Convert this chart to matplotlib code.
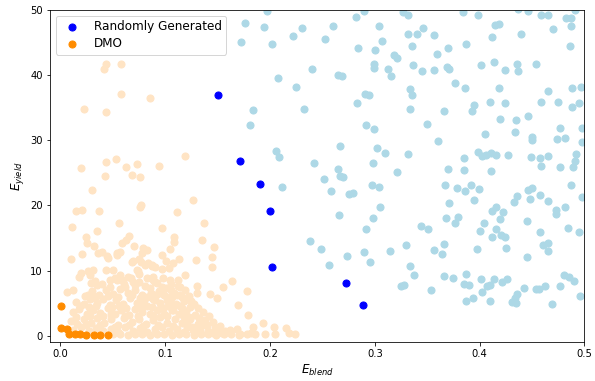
import matplotlib
matplotlib.use("Agg")
import matplotlib.pyplot as plt

# Randomly generated designs (dominated)
random_points = [
    (0.197, 49.85), (0.290, 49.85), (0.176, 48.06), (0.194, 47.38), (0.230, 47.18), (0.222, 46.0), (0.260, 47.49),
    (0.282, 48.88), (0.304, 47.49), (0.172, 45.14), (0.202, 44.83), (0.252, 45.6), (0.284, 44.22), (0.300, 43.8),
    (0.307, 45.29), (0.318, 43.08), (0.321, 42.62), (0.299, 41.65), (0.299, 41.14), (0.313, 40.88), (0.315, 39.85),
    (0.240, 40.92), (0.265, 39.95), (0.269, 39.8), (0.208, 39.54), (0.225, 38.22), (0.291, 37.03), (0.294, 36.92),
    (0.283, 35.65), (0.184, 34.68), (0.232, 34.88), (0.181, 32.42), (0.292, 32.31), (0.299, 31.69), (0.206, 28.31),
    (0.209, 27.49), (0.267, 29.14), (0.302, 28.77), (0.310, 28.06), (0.242, 26.57), (0.298, 26.57), (0.265, 25.65),
    (0.327, 49.75), (0.332, 49.18), (0.384, 49.69), (0.398, 49.23), (0.437, 50.1), (0.446, 49.85), (0.459, 49.18),
    (0.465, 49.23), (0.491, 49.95), (0.482, 48.72), (0.487, 48.83), (0.487, 47.54), (0.332, 46.31), (0.340, 46.26),
    (0.346, 47.18), (0.356, 46.22), (0.415, 47.69), (0.418, 47.8), (0.412, 45.8), (0.439, 46.31), (0.470, 47.14),
    (0.335, 44.46), (0.359, 43.29), (0.370, 44.11), (0.387, 44.77), (0.486, 44.52), (0.336, 41.6), (0.345, 40.62),
    (0.356, 40.72), (0.369, 41.23), (0.371, 40.88), (0.401, 41.6), (0.414, 42.06), (0.424, 40.72), (0.436, 41.65),
    (0.437, 40.57), (0.454, 41.69), (0.376, 38.77), (0.386, 37.95), (0.418, 38.0), (0.334, 37.85), (0.335, 36.98),
    (0.465, 37.6), (0.488, 38.0), (0.497, 38.22), (0.334, 34.83), (0.366, 34.57), (0.395, 35.45), (0.393, 34.52),
    (0.410, 35.85), (0.424, 35.69), (0.459, 35.85), (0.475, 35.95), (0.488, 35.14), (0.495, 35.65), (0.350, 32.46),
    (0.419, 33.34), (0.435, 33.08), (0.446, 33.8), (0.434, 31.29), (0.405, 30.92), (0.360, 29.91), (0.450, 30.46),
    (0.450, 30.11), (0.477, 31.95), (0.474, 30.15), (0.481, 30.42), (0.498, 31.95), (0.498, 29.69), (0.332, 27.91),
    (0.385, 27.29), (0.398, 28.15), (0.402, 27.65), (0.406, 27.8), (0.411, 28.06), (0.416, 27.69), (0.427, 27.69),
    (0.449, 27.38), (0.458, 27.29), (0.465, 27.54), (0.492, 27.91), (0.491, 26.77), (0.459, 26.0), (0.477, 25.85),
    (0.489, 25.85), (0.370, 25.57), (0.385, 25.42), (0.411, 25.34), (0.267, 24.46), (0.270, 24.31), (0.251, 24.0),
    (0.321, 25.14), (0.211, 22.83), (0.258, 22.22), (0.275, 21.8), (0.279, 21.95), (0.297, 23.08), (0.304, 22.83),
    (0.305, 19.69), (0.266, 18.52), (0.298, 18.11), (0.292, 16.37), (0.238, 14.57), (0.249, 13.38), (0.273, 12.26),
    (0.290, 12.83), (0.314, 13.08), (0.256, 10.83), (0.295, 11.29), (0.367, 23.18), (0.378, 22.68), (0.386, 22.15),
    (0.392, 23.18), (0.399, 22.52), (0.395, 20.83), (0.371, 20.37), (0.368, 18.0), (0.376, 17.38), (0.379, 18.26),
    (0.344, 16.92), (0.351, 16.37), (0.330, 13.91), (0.356, 13.18), (0.364, 12.62), (0.366, 14.06), (0.397, 13.34),
    (0.404, 17.29), (0.400, 16.11), (0.412, 19.08), (0.416, 19.75), (0.422, 19.03), (0.419, 17.95), (0.416, 16.42),
    (0.412, 15.14), (0.420, 15.45), (0.424, 15.14), (0.425, 13.45), (0.433, 20.46), (0.436, 21.38), (0.446, 22.37),
    (0.450, 22.68), (0.448, 20.98), (0.458, 21.6), (0.465, 20.62), (0.445, 17.65), (0.458, 15.95), (0.460, 14.0),
    (0.465, 14.26), (0.465, 13.03), (0.445, 12.11), (0.473, 19.29), (0.473, 18.68), (0.481, 19.69), (0.487, 23.18),
    (0.498, 21.29), (0.484, 16.52), (0.495, 15.85), (0.334, 10.72), (0.337, 9.38), (0.325, 7.6), (0.328, 7.8),
    (0.354, 7.08), (0.366, 9.18), (0.375, 8.83), (0.387, 9.49), (0.385, 7.95), (0.390, 7.85), (0.401, 8.72),
    (0.407, 7.69), (0.410, 7.8), (0.414, 8.72), (0.421, 8.31), (0.426, 8.77), (0.402, 6.68), (0.394, 5.8),
    (0.387, 5.38), (0.410, 5.34), (0.442, 7.34), (0.436, 6.37), (0.434, 5.75), (0.431, 5.23), (0.435, 5.03),
    (0.454, 7.23), (0.457, 7.23), (0.462, 7.69), (0.469, 4.83), (0.477, 7.65), (0.480, 9.34), (0.485, 9.03),
    (0.490, 8.37), (0.496, 6.15),
]

# Non-dominated randomly generated designs
random_front = [
    (0.150, 36.9), (0.1716, 26.8), (0.190, 23.3), (0.1997, 19.2), (0.2019, 10.6), (0.2723, 8.15), (0.2889, 4.7),
]

# DMO designs (dominated)
dmo_points = [
    (0.0432, 41.65), (0.0416, 40.88), (0.0578, 41.65), (0.0581, 37.03), (0.0853, 36.42), (0.0222, 34.88),
    (0.0435, 34.31), (0.1184, 27.65), (0.0193, 25.69), (0.0432, 26.68), (0.0533, 27.08), (0.0626, 25.85),
    (0.0728, 26.31), (0.0939, 26.06), (0.0428, 24.46), (0.0686, 24.62), (0.0760, 24.37), (0.0298, 22.37),
    (0.1267, 20.83), (0.0767, 20.11),
    (0.0145, 19.18), (0.0206, 19.29), (0.0368, 19.18), (0.0763, 19.8), (0.1111, 19.03), (0.0107, 16.68),
    (0.0352, 16.11), (0.0562, 17.38), (0.0968, 16.52), (0.1365, 17.29), (0.1350, 14.68), (0.1461, 13.69),
    (0.1088, 15.23), (0.1088, 14.42), (0.1047, 13.29), (0.1133, 11.85), (0.1078, 11.23), (0.0968, 12.46),
    (0.1009, 11.54), (0.0973, 10.22), (0.1295, 11.65), (0.1446, 12.11), (0.1448, 10.52), (0.1187, 9.38),
    (0.1637, 8.46), (0.1554, 7.45), (0.1783, 6.92), (0.1302, 7.65), (0.1305, 6.52), (0.1429, 6.37),
    (0.1493, 5.75), (0.1250, 5.38), (0.1238, 4.46), (0.1694, 4.77), (0.1790, 3.14), (0.1936, 2.0),
    (0.1834, 1.38), (0.2038, 1.38), (0.2153, 1.23), (0.2182, 0.37), (0.2239, 0.26), (0.1818, 0.37),
    (0.1709, 0.22), (0.1684, 1.03), (0.1620, 0.88), (0.1541, 0.46), (0.1206, 2.15), (0.1222, 2.83),
    (0.1254, 1.38), (0.1365, 2.0), (0.1403, 1.65), (0.1477, 1.29), (0.1327, 0.77), (0.1451, 0.46),
    (0.0100, 11.8), (0.0208, 12.57), (0.0241, 15.23), (0.0256, 14.31), (0.0317, 13.75), (0.0394, 12.88),
    (0.0442, 12.26), (0.0435, 10.06), (0.0260, 9.95), (0.0311, 10.11), (0.0196, 9.69), (0.0177, 9.08),
    (0.0059, 6.72), (0.0122, 7.03), (0.0237, 6.06), (0.0289, 8.06), (0.0346, 7.8), (0.0473, 7.54),
    (0.0537, 8.57), (0.0505, 10.11), (0.0543, 12.68), (0.0585, 14.22), (0.0626, 14.72), (0.0658, 15.34),
    (0.0703, 13.85), (0.0690, 11.49), (0.0776, 12.68), (0.0753, 11.8), (0.0824, 13.18), (0.0792, 13.45),
    (0.0839, 11.14), (0.0872, 10.72), (0.0728, 10.11), (0.0753, 9.49), (0.0648, 9.08), (0.0569, 9.34),
    (0.0696, 8.22), (0.0824, 8.83), (0.0887, 9.08), (0.0920, 8.15), (0.1047, 8.57), (0.1117, 8.57),
    (0.1142, 7.54), (0.1056, 7.03), (0.1111, 6.26), (0.1159, 6.0), (0.0951, 6.52), (0.1015, 6.0),
    (0.0865, 6.52), (0.0798, 5.49), (0.0903, 5.49), (0.1047, 4.98), (0.1142, 4.57), (0.1078, 3.95),
    (0.0983, 4.21), (0.0872, 4.46),
    (0.0361, 12.68), (0.0457, 11.9), (0.0537, 12.42), (0.0569, 12.92), (0.0681, 11.38), (0.0770, 11.38),
    (0.0808, 10.86), (0.0872, 10.86), (0.0903, 10.6), (0.1040, 10.37), (0.0744, 9.95), (0.0282, 9.34),
    (0.0521, 8.83), (0.0585, 8.57), (0.0617, 7.54), (0.0712, 7.8), (0.0903, 8.31), (0.0968, 7.54),
    (0.033, 8.4), (0.040, 7.9), (0.047, 8.6), (0.061, 8.0), (0.067, 8.8), (0.075, 8.3), (0.081, 7.7),
    (0.088, 8.6), (0.098, 8.8), (0.105, 7.9), (0.112, 7.6),
    (0.030, 6.9), (0.037, 6.3), (0.043, 7.1), (0.050, 6.4), (0.057, 7.2), (0.064, 6.6), (0.071, 7.0),
    (0.078, 6.3), (0.085, 7.3), (0.094, 6.9), (0.101, 7.4), (0.108, 6.5), (0.119, 7.1),
    (0.026, 6.2), (0.033, 5.9), (0.045, 6.1), (0.055, 6.0), (0.068, 6.2), (0.076, 5.8), (0.083, 6.0),
    (0.091, 6.3), (0.099, 6.2), (0.106, 5.9), (0.114, 6.3), (0.123, 6.1),
    (0.015, 5.2), (0.022, 4.8), (0.028, 5.6), (0.035, 5.0), (0.041, 5.7), (0.047, 4.7), (0.053, 5.5),
    (0.060, 4.9), (0.066, 5.8), (0.073, 5.1), (0.080, 4.7), (0.088, 5.6), (0.095, 5.0), (0.102, 5.5),
    (0.110, 4.8), (0.118, 5.3), (0.127, 4.9),
    (0.019, 4.5), (0.027, 4.4), (0.034, 4.5), (0.049, 4.4), (0.056, 4.5), (0.063, 4.3), (0.076, 4.4),
    (0.083, 4.5), (0.096, 4.4), (0.103, 4.6), (0.116, 4.2), (0.131, 4.3),
    (0.012, 3.6), (0.018, 4.1), (0.025, 3.3), (0.031, 4.0), (0.038, 3.5), (0.045, 4.2), (0.052, 3.4),
    (0.058, 3.9), (0.065, 3.2), (0.071, 4.1), (0.078, 3.6), (0.085, 3.3), (0.092, 3.9), (0.099, 3.4),
    (0.106, 4.0), (0.113, 3.3), (0.120, 3.8), (0.128, 3.2), (0.136, 3.6),
    (0.015, 2.9), (0.028, 3.0), (0.041, 3.1), (0.048, 3.3), (0.062, 3.0), (0.074, 3.1), (0.088, 3.0),
    (0.102, 3.1), (0.118, 2.9), (0.132, 2.8), (0.142, 3.0),
    (0.010, 2.3), (0.016, 1.8), (0.022, 2.6), (0.029, 2.0), (0.035, 2.7), (0.042, 1.9), (0.048, 2.5),
    (0.055, 1.7), (0.061, 2.8), (0.068, 2.1), (0.075, 2.6), (0.082, 1.8), (0.088, 2.4), (0.095, 2.9),
    (0.102, 2.0), (0.109, 2.5), (0.116, 1.9), (0.124, 2.6), (0.131, 1.8), (0.138, 2.4), (0.146, 2.1),
    (0.024, 1.6), (0.038, 1.7), (0.052, 1.4), (0.065, 1.6), (0.079, 1.5), (0.093, 1.7), (0.107, 1.5),
    (0.121, 1.4), (0.136, 1.6), (0.152, 1.5),
    (0.012, 0.9), (0.020, 1.3), (0.027, 0.8), (0.034, 1.2), (0.041, 0.7), (0.048, 1.1), (0.055, 0.6),
    (0.062, 1.3), (0.069, 0.8), (0.076, 1.2), (0.083, 0.6), (0.090, 1.0), (0.097, 1.4), (0.104, 0.7),
    (0.111, 1.1), (0.118, 0.6), (0.126, 0.9), (0.133, 1.3), (0.141, 0.8), (0.149, 1.0), (0.157, 0.7),
    (0.050, 0.2), (0.057, 0.3), (0.064, 0.1), (0.071, 0.3), (0.078, 0.2), (0.085, 0.1), (0.092, 0.3),
    (0.099, 0.2), (0.106, 0.1), (0.113, 0.3), (0.120, 0.2), (0.127, 0.1), (0.134, 0.3), (0.141, 0.2),
    (0.148, 0.1), (0.156, 0.2), (0.163, 0.3), (0.170, 0.1), (0.178, 0.3), (0.186, 0.2), (0.195, 0.3),
    (0.205, 0.2),
]

# Non-dominated DMO designs
dmo_front = [
    (0.0005, 4.6), (0.0005, 1.2), (0.006, 1.0), (0.008, 0.3), (0.0139, 0.26), (0.0186, 0.2),
    (0.0241, 0.15), (0.0323, 0.06), (0.0378, 0.06), (0.0451, 0.06),
]

x_ticks = [0.0, 0.1, 0.2, 0.3, 0.4, 0.5]
y_ticks = [0, 10, 20, 30, 40, 50]

DPI = 72
fig = plt.figure(figsize=(595 / DPI, 381 / DPI), dpi=DPI)
ax = fig.add_axes([0.084, 0.1016, 0.8983, 0.8722])

size = 50
rx, ry = zip(*random_points)
dx, dy = zip(*dmo_points)
rfx, rfy = zip(*random_front)
dfx, dfy = zip(*dmo_front)

ax.scatter(rx, ry, s=size, color="lightblue", zorder=2)
ax.scatter(dx, dy, s=size, color="bisque", zorder=2)
ax.scatter(rfx, rfy, s=size, color="blue", label="Randomly Generated", zorder=3)
ax.scatter(dfx, dfy, s=size, color="darkorange", label="DMO", zorder=3)

ax.set_xlim(-0.01, 0.5)
ax.set_ylim(-1, 50)
ax.set_xticks(x_ticks)
ax.set_yticks(y_ticks)
ax.tick_params(labelsize=10)
ax.set_xlabel("$E_{blend}$", fontsize=12)
ax.set_ylabel("$E_{yield}$", fontsize=12)
ax.legend(loc="upper left", fontsize=12, labelspacing=0.35, borderpad=0.35)

fig.savefig("out.png", dpi=DPI)
